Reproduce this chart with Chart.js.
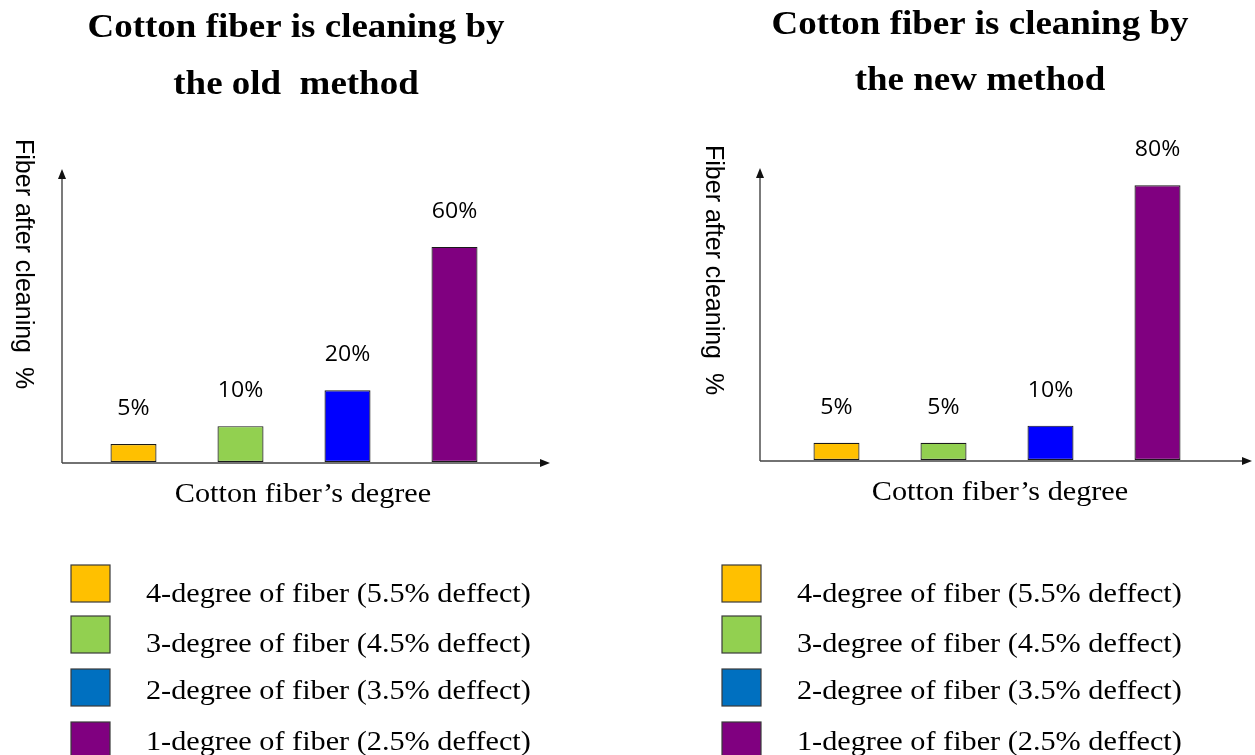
<!DOCTYPE html>
<html>
<head>
<meta charset="utf-8">
<script src="https://cdn.jsdelivr.net/npm/chart.js@4.4.1/dist/chart.umd.min.js"></script>
<style>
  body { margin: 0; background: #fff; }
  #wrap { position: relative; width: 1255px; height: 755px; overflow: hidden; }
  canvas { position: absolute; top: 0; }
  #oldChart { left: 0; }
  #newChart { left: 627px; }
</style>
</head>
<body>
<div id="wrap">
  <canvas id="oldChart" width="627" height="755"></canvas>
  <canvas id="newChart" width="628" height="755"></canvas>
</div>
<script>
// chart data
const categories = ['4-degree', '3-degree', '2-degree', '1-degree'];
const oldMethodValues = [5, 10, 20, 60];
const newMethodValues = [5, 5, 10, 80];
const barColors = ['#FFC000', '#92D050', '#0000FF', '#800080'];
const legendColors = ['#FFC000', '#92D050', '#0070C0', '#800080'];
const legendLabels = [
  '4-degree of fiber (5.5% deffect)',
  '3-degree of fiber (4.5% deffect)',
  '2-degree of fiber (3.5% deffect)',
  '1-degree of fiber (2.5% deffect)',
];
const oldTitle = ['Cotton fiber is cleaning by', 'the old  method'];
const newTitle = ['Cotton fiber is cleaning by', 'the new method'];
const yAxisLabel = 'Fiber after cleaning  %';
const xAxisLabel = 'Cotton fiber\u2019s degree';

// layout of each panel
const oldLayout = {
  padding: { left: 80, right: 119, top: 168, bottom: 293 },
  yMax: 82,
  titleX: 296, titleY: [37, 94],
  yLabelX: 16, yLabelY: 139,
  axisX: 62, axisTop: 169, axisY: 463, axisRight: 550,
  xLabelX: 303, xLabelY: 502,
  boxX: 71, textX: 146,
};
const newLayout = {
  padding: { left: 156, right: 44, top: 168, bottom: 295 },
  yMax: 85,
  titleX: 353, titleY: [34, 90],
  yLabelX: 79, yLabelY: 145,
  axisX: 133, axisTop: 168, axisY: 461, axisRight: 625,
  xLabelX: 373, xLabelY: 500,
  boxX: 95, textX: 170,
};
const legendBoxTop = [565, 616, 669, 722];
const legendTextY = [602, 652, 699, 750];

// text drawn slightly stretched horizontally, like the source picture
function drawText(ctx, text, x, y, font, align, sx) {
  ctx.save();
  ctx.font = font;
  ctx.fillStyle = '#000';
  ctx.textAlign = align;
  ctx.textBaseline = 'alphabetic';
  ctx.translate(x, y);
  ctx.scale(sx, 1);
  ctx.fillText(text, 0, 0);
  ctx.restore();
}

// arrow head
function arrowHead(ctx, x, y, dir) {
  ctx.beginPath();
  if (dir === 'up') {
    ctx.moveTo(x, y);
    ctx.lineTo(x - 4, y + 10);
    ctx.lineTo(x + 4, y + 10);
  } else {
    ctx.moveTo(x, y);
    ctx.lineTo(x - 10, y - 4);
    ctx.lineTo(x - 10, y + 4);
  }
  ctx.closePath();
  ctx.fill();
}

// axes, titles, value labels and legend
const decorPlugin = {
  id: 'decor',
  beforeDatasetsDraw(chart, args, opts) {
    const ctx = chart.ctx;
    const L = opts.layout;
    ctx.save();
    ctx.strokeStyle = '#444';
    ctx.fillStyle = '#111';
    ctx.lineWidth = 1.4;
    ctx.beginPath();
    ctx.moveTo(L.axisX, L.axisY);
    ctx.lineTo(L.axisX, L.axisTop + 8);
    ctx.moveTo(L.axisX, L.axisY);
    ctx.lineTo(L.axisRight - 8, L.axisY);
    ctx.stroke();
    arrowHead(ctx, L.axisX, L.axisTop, 'up');
    arrowHead(ctx, L.axisRight, L.axisY, 'right');
    ctx.restore();
  },
  afterDraw(chart, args, opts) {
    const ctx = chart.ctx;
    const L = opts.layout;

    // title
    opts.title.forEach((line, i) => {
      drawText(ctx, line, L.titleX, L.titleY[i], 'bold 33px "Liberation Serif"', 'center', 1.12);
    });

    // y axis label, reading top to bottom
    ctx.save();
    ctx.translate(L.yLabelX, L.yLabelY);
    ctx.rotate(Math.PI / 2);
    ctx.font = '25px "Liberation Sans"';
    ctx.fillStyle = '#000';
    ctx.textAlign = 'left';
    ctx.textBaseline = 'alphabetic';
    ctx.fillText(yAxisLabel, 0, 0);
    ctx.restore();

    // x axis label
    drawText(ctx, xAxisLabel, L.xLabelX, L.xLabelY, '27px "Liberation Serif"', 'center', 1.12);

    // value labels above bars
    const meta = chart.getDatasetMeta(0);
    const values = chart.data.datasets[0].data;
    meta.data.forEach((bar, i) => {
      drawText(ctx, values[i] + '%', bar.x, bar.y - 29, '21px "Open Sans"', 'center', 1.1);
    });

    // legend
    legendLabels.forEach((label, i) => {
      ctx.save();
      ctx.fillStyle = legendColors[i];
      ctx.strokeStyle = '#3a3a3a';
      ctx.lineWidth = 1.2;
      ctx.fillRect(L.boxX, legendBoxTop[i], 39, 37);
      ctx.strokeRect(L.boxX, legendBoxTop[i], 39, 37);
      ctx.restore();
      drawText(ctx, label, L.textX, legendTextY[i], '27px "Liberation Serif"', 'left', 1.12);
    });
  },
};

// one bar panel
function makeChart(id, values, title, layout) {
  return new Chart(document.getElementById(id), {
    type: 'bar',
    data: {
      labels: categories,
      datasets: [{
        data: values,
        backgroundColor: barColors,
        borderColor: '#1a1a1a',
        borderWidth: 1.2,
        borderSkipped: false,
        barPercentage: 0.43,
        categoryPercentage: 1,
      }],
    },
    options: {
      responsive: false,
      animation: false,
      layout: { padding: layout.padding },
      plugins: {
        legend: { display: false },
        tooltip: { enabled: false },
        decor: { layout: layout, title: title },
      },
      scales: {
        x: { display: false },
        y: { display: false, min: 0, max: layout.yMax },
      },
    },
    plugins: [decorPlugin],
  });
}

makeChart('oldChart', oldMethodValues, oldTitle, oldLayout);
makeChart('newChart', newMethodValues, newTitle, newLayout);
</script>
</body>
</html>
